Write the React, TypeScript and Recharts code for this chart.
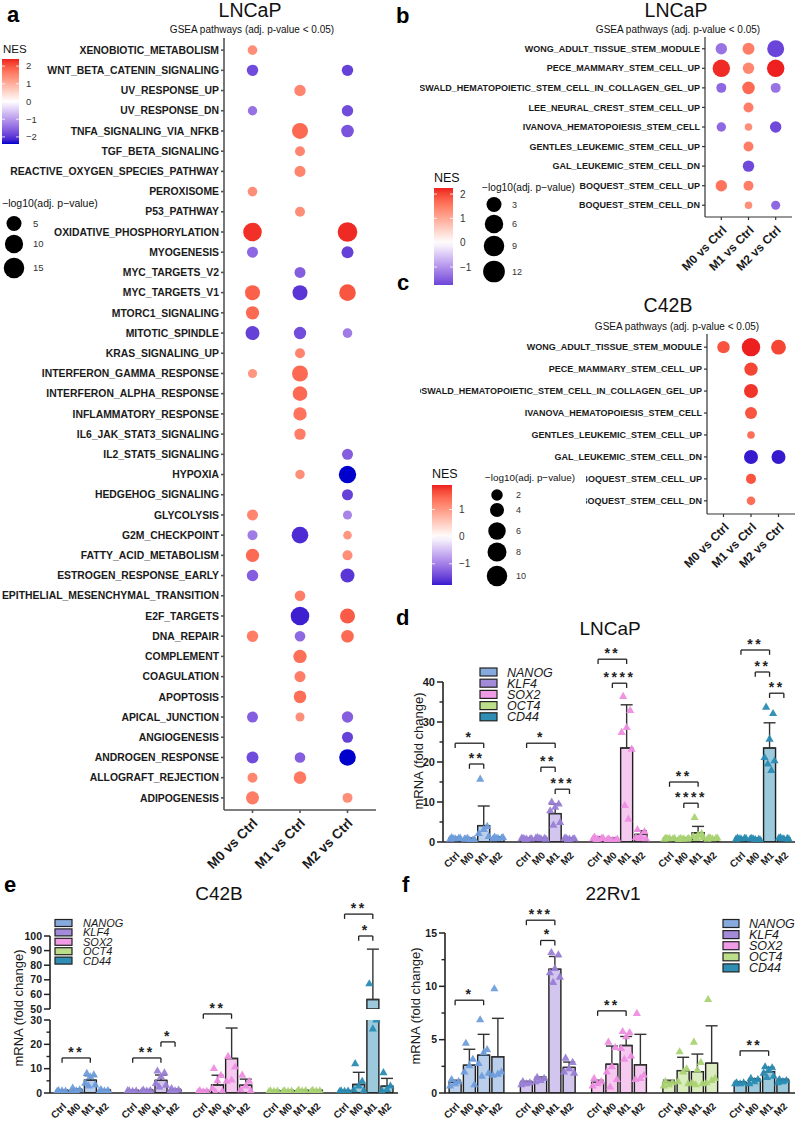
import React from 'react';
import {
  ScatterChart, Scatter, XAxis, YAxis, ComposedChart, Bar, Cell, ErrorBar, ReferenceLine, Rectangle,
} from 'recharts';

const FONT = '"Liberation Sans", Arial, Helvetica, sans-serif';

const comparisons = ['M0 vs Ctrl', 'M1 vs Ctrl', 'M2 vs Ctrl'];

// a: hallmark GSEA, LNCaP
const hallmarkPathways = [
  'XENOBIOTIC_METABOLISM', 'WNT_BETA_CATENIN_SIGNALING', 'UV_RESPONSE_UP', 'UV_RESPONSE_DN',
  'TNFA_SIGNALING_VIA_NFKB', 'TGF_BETA_SIGNALING', 'REACTIVE_OXYGEN_SPECIES_PATHWAY', 'PEROXISOME',
  'P53_PATHWAY', 'OXIDATIVE_PHOSPHORYLATION', 'MYOGENESIS', 'MYC_TARGETS_V2', 'MYC_TARGETS_V1',
  'MTORC1_SIGNALING', 'MITOTIC_SPINDLE', 'KRAS_SIGNALING_UP', 'INTERFERON_GAMMA_RESPONSE',
  'INTERFERON_ALPHA_RESPONSE', 'INFLAMMATORY_RESPONSE', 'IL6_JAK_STAT3_SIGNALING', 'IL2_STAT5_SIGNALING',
  'HYPOXIA', 'HEDGEHOG_SIGNALING', 'GLYCOLYSIS', 'G2M_CHECKPOINT', 'FATTY_ACID_METABOLISM',
  'ESTROGEN_RESPONSE_EARLY', 'EPITHELIAL_MESENCHYMAL_TRANSITION', 'E2F_TARGETS', 'DNA_REPAIR',
  'COMPLEMENT', 'COAGULATION', 'APOPTOSIS', 'APICAL_JUNCTION', 'ANGIOGENESIS', 'ANDROGEN_RESPONSE',
  'ALLOGRAFT_REJECTION', 'ADIPOGENESIS',
];
const hallmarkNesM0 = [1.4, -1.8, null, -1.4, null, null, null, 1.4, null, 2.3, -1.5, null, 1.9, 1.8, -1.9, null, 1.3, null, null, null, null, null, null, 1.5, -1.3, 1.8, -1.6, null, null, 1.6, null, null, null, -1.6, null, -1.8, 1.5, 1.6];
const hallmarkLogPM0 = [3.5, 5.2, null, 3.3, null, null, null, 3.5, null, 15, 4.8, null, 9.5, 7.4, 8.2, null, 3.1, null, null, null, null, null, null, 4.8, 3.8, 7.4, 5.2, null, null, 5.2, null, null, null, 4.8, null, 5.8, 3.8, 7.0];
const hallmarkNesM1 = [null, null, 1.5, null, 1.8, 1.5, 1.5, null, 1.4, null, null, -1.6, -2.0, null, -1.8, 1.5, 1.8, 1.8, 1.7, 1.6, null, 1.4, null, null, -2.1, null, null, 1.6, -2.2, -1.5, 1.75, 1.6, 1.75, 1.4, null, -1.6, 1.65, null];
const hallmarkLogPM1 = [null, null, 5.2, null, 10.9, 3.8, 4.8, null, 3.8, null, null, 4.8, 9.5, null, 6.3, 3.8, 10.9, 9.0, 7.4, 5.2, null, 3.3, null, null, 11.8, null, null, 4.4, 15, 4.4, 7.4, 4.8, 6.5, 3.0, null, 4.4, 6.5, null];
const hallmarkNesM2 = [null, -1.9, null, -1.8, -1.7, null, null, null, null, 2.35, -1.9, null, 2.0, null, -1.3, null, null, null, null, null, -1.6, -2.4, -1.9, -1.2, 1.3, 1.4, -2.0, null, 1.95, 1.8, null, null, null, -1.6, -1.9, -2.4, null, 1.4];
const hallmarkLogPM2 = [null, 5.2, null, 5.2, 6.5, null, null, null, null, 16.7, 5.8, null, 11.8, null, 3.5, null, null, null, null, null, 4.8, 13.0, 4.8, 3.0, 2.6, 3.8, 8.2, null, 9.5, 6.5, null, null, null, 5.2, 4.8, 11.8, null, 3.8];

// b: stem cell signatures, LNCaP
const stemPathwaysB = [
  'WONG_ADULT_TISSUE_STEM_MODULE', 'PECE_MAMMARY_STEM_CELL_UP', 'OSWALD_HEMATOPOIETIC_STEM_CELL_IN_COLLAGEN_GEL_UP',
  'LEE_NEURAL_CREST_STEM_CELL_UP', 'IVANOVA_HEMATOPOIESIS_STEM_CELL', 'GENTLES_LEUKEMIC_STEM_CELL_UP',
  'GAL_LEUKEMIC_STEM_CELL_DN', 'BOQUEST_STEM_CELL_UP', 'BOQUEST_STEM_CELL_DN',
];
const stemNesM0B = [-1.3, 2.2, -1.4, null, -1.4, null, null, 1.6, null];
const stemLogPM0B = [5.0, 12, 3.7, null, 3.3, null, null, 5.0, null];
const stemNesM1B = [1.5, 1.4, 1.7, 1.5, 1.3, 1.5, -1.7, 1.5, 1.3];
const stemLogPM1B = [5.5, 5.0, 6.1, 3.7, 2.0, 3.7, 5.0, 3.7, 2.0];
const stemNesM2B = [-1.74, 2.25, -1.3, null, -1.7, null, null, null, -1.4];
const stemLogPM2B = [11.4, 12, 3.7, null, 5.0, null, null, null, 3.0];

// c: stem cell signatures, C42B
const stemPathwaysC = [
  'WONG_ADULT_TISSUE_STEM_MODULE', 'PECE_MAMMARY_STEM_CELL_UP', 'OSWALD_HEMATOPOIETIC_STEM_CELL_IN_COLLAGEN_GEL_UP',
  'IVANOVA_HEMATOPOIESIS_STEM_CELL', 'GENTLES_LEUKEMIC_STEM_CELL_UP', 'GAL_LEUKEMIC_STEM_CELL_DN',
  'BOQUEST_STEM_CELL_UP', 'BOQUEST_STEM_CELL_DN',
];
const stemNesM0C = [1.6, null, null, null, null, null, null, null];
const stemLogPM0C = [4.4, null, null, null, null, null, null, null];
const stemNesM1C = [1.9, 1.7, 1.8, 1.6, 1.4, -1.78, 1.6, 1.4];
const stemLogPM1C = [10, 5.2, 5.7, 4.1, 1.5, 5.7, 2.8, 2.0];
const stemNesM2C = [1.7, null, null, null, null, -1.78, null, null];
const stemLogPM2C = [6.4, null, null, null, null, 5.7, null, null];

// legend breaks
const nesTicksA = [2, 1, 0, -1, -2];
const nesTicksB = [2, 1, 0, -1];
const nesTicksC = [1, 0, -1];
const sizeBreaksA = [5, 10, 15];
const sizeBreaksB = [3, 6, 9, 12];
const sizeBreaksC = [2, 4, 6, 8, 10];

// d-f: qPCR fold change
const genes = ['NANOG', 'KLF4', 'SOX2', 'OCT4', 'CD44'];
const conditions = ['Ctrl', 'M0', 'M1', 'M2'];

const lncapMean = [[1.0, 0.7, 4.1, 1.1], [0.9, 1.0, 7.1, 0.9], [1.0, 0.7, 23.5, 1.9], [1.0, 0.9, 2.3, 1.0], [1.0, 0.8, 23.5, 1.0]];
const lncapSd = [[0.2, 0.3, 4.9, 0.2], [0.1, 0.1, 2.4, 0.1], [0.3, 0.3, 10.8, 0.9], [0.1, 0.1, 1.6, 0.1], [0.1, 0.2, 6.3, 0.1]];
const lncapReps = [
  [[1.2, 1.0, 0.9, 0.8, 1.1, 0.9], [0.9, 0.6, 0.5, 0.8, 0.7, 1.0], [15.8, 4.0, 3.2, 2.2, 1.5], [1.3, 1.1, 1.0, 0.9, 1.2, 1.0]],
  [[1.0, 0.9, 0.8, 1.0, 0.9, 0.8], [1.2, 1.0, 0.9, 1.1, 0.8, 1.0], [10.1, 9.6, 8.8, 7.9, 5.0, 4.3], [1.1, 0.9, 0.8, 1.0, 0.9, 0.7]],
  [[1.3, 1.0, 0.8, 0.9, 1.1, 0.7], [0.9, 0.6, 0.5, 0.7, 0.8, 0.4], [36.5, 33.0, 28.7, 27.5, 23.3, 9.2, 5.8], [3.2, 2.7, 1.5, 1.2, 0.9, 1.0]],
  [[1.1, 0.9, 1.0, 0.8, 1.0, 0.9], [1.0, 0.8, 0.9, 0.7, 1.0, 0.8], [6.2, 2.2, 1.8, 1.5, 1.2, 1.0], [1.2, 1.0, 0.9, 0.8, 1.1, 1.0]],
  [[1.1, 1.0, 0.9, 0.8, 1.0, 0.9], [1.0, 0.8, 0.7, 0.9, 0.6, 0.8], [33.8, 32.2, 25.8, 21.2, 20.4, 19.6, 18.0], [1.2, 1.0, 0.9, 1.1, 0.8, 0.9]],
];
// [gene, from, to, height, stars]
const lncapSig = [
  [0, 0, 2, 24.7, '*'], [0, 1, 2, 19.5, '**'],
  [1, 0, 2, 24.7, '*'], [1, 1, 2, 18.7, '**'], [1, 2, 3, 13.2, '***'],
  [2, 0, 2, 45.7, '**'], [2, 1, 2, 39.7, '****'],
  [3, 0, 2, 15.0, '**'], [3, 1, 2, 9.7, '****'],
  [4, 0, 2, 48.0, '**'], [4, 1, 2, 42.5, '**'], [4, 2, 3, 37.2, '**'],
];

const c42bMean = [[1.0, 1.2, 5.3, 1.1], [1.0, 1.1, 5.2, 1.2], [0.8, 3.3, 14.2, 3.2], [0.9, 0.9, 1.0, 1.0], [0.9, 3.5, 56.5, 2.8]];
const c42bSd = [[0.2, 0.5, 1.8, 0.3], [0.1, 0.3, 2.2, 0.4], [0.3, 4.0, 12.5, 2.5], [0.2, 0.2, 0.3, 0.2], [0.2, 5.0, 34.5, 3.2]];
const c42bReps = [
  [[1.2, 0.9, 1.0, 0.8], [2.2, 1.5, 1.0, 0.7], [8.2, 7.6, 6.8, 4.2, 3.5, 3.0], [1.6, 1.2, 0.9, 0.8]],
  [[1.0, 0.9, 0.8, 1.1], [1.4, 1.2, 0.9, 0.8], [9.2, 8.4, 6.8, 4.1, 3.4, 2.6], [2.0, 1.4, 1.0, 0.8]],
  [[1.2, 0.8, 0.6, 0.5], [10.2, 7.4, 5.2, 2.0, 0.8, 0.4], [15.2, 10.8, 5.5, 5.0], [7.5, 5.0, 3.0, 1.5, 1.0]],
  [[1.0, 0.9, 0.8, 0.7], [1.0, 0.9, 0.8, 0.8], [1.4, 1.1, 0.9, 0.7], [1.3, 1.0, 0.9, 0.8]],
  [[1.0, 0.9, 0.8, 0.7], [12.2, 5.0, 3.0, 1.5, 1.0], [67.5, 30.2, 26.5], [8.5, 3.0, 1.6, 1.0]],
];
const c42bSigLow = [[0, 0, 2, 14.4, '**'], [1, 0, 2, 14.4, '**'], [1, 2, 3, 21.0, '*'], [2, 0, 2, 32.5, '**']];
const c42bSigHigh = [[4, 0, 2, 115, '**'], [4, 1, 2, 100, '*']];

const rv1Mean = [[1.0, 2.6, 3.55, 3.4], [1.0, 1.3, 11.6, 2.4], [1.0, 2.7, 4.45, 2.65], [1.0, 2.1, 2.0, 2.8], [1.0, 1.2, 2.0, 1.2]];
const rv1Sd = [[0.2, 1.5, 1.95, 3.6], [0.1, 0.2, 1.2, 0.5], [0.2, 1.7, 0.85, 2.85], [0.2, 1.25, 1.65, 3.5], [0.05, 0.15, 0.4, 0.1]];
const rv1Reps = [
  [[1.3, 1.1, 0.9, 0.7], [4.7, 3.2, 2.6, 2.0, 0.8], [6.9, 4.1, 3.8, 2.8, 1.9, 1.6], [9.8, 2.0, 1.8, 1.7]],
  [[1.1, 1.0, 0.9, 0.8], [1.5, 1.4, 1.2, 1.1], [13.2, 13.0, 11.7, 11.3, 10.9, 10.4], [3.3, 2.9, 2.3, 2.0, 1.9]],
  [[1.4, 1.1, 0.9, 0.7], [4.8, 4.3, 2.5, 2.0, 1.3, 0.6], [5.8, 5.7, 5.3, 4.2, 3.5, 3.2], [7.5, 1.7, 1.4, 1.3]],
  [[1.1, 1.0, 0.8, 0.7], [3.9, 2.3, 2.0, 1.1, 0.9], [4.8, 2.9, 2.2, 1.0, 0.9, 0.8], [8.8, 1.4, 1.2, 1.0]],
  [[1.0, 1.0, 0.9, 0.9], [1.4, 1.3, 1.1, 0.9], [2.5, 2.4, 2.2, 1.9, 1.6, 1.5], [1.3, 1.2, 1.1, 1.0]],
];
const rv1Sig = [[0, 0, 2, 8.7, '*'], [1, 0, 2, 16.2, '***'], [1, 1, 2, 14.3, '*'], [2, 0, 2, 7.7, '**'], [4, 0, 2, 3.95, '**']];

const genePoint = ['#6f9ddc', '#9a80d6', '#ee8ee2', '#aad373', '#2a8cb2'];
const geneBar = ['#bacfec', '#d3c6ee', '#f6caf0', '#dcecc1', '#9ccadc'];
const geneKey = ['#86aade', '#a48bd9', '#f09be6', '#bcdd8a', '#2f8eb3'];

// ---- colour helpers (ggplot gradient2 interpolates in Lab)
function hexToLab(hex: string) {
  const n = parseInt(hex.slice(1), 16);
  const lin = (c: number) => (c <= 0.04045 ? c / 12.92 : Math.pow((c + 0.055) / 1.055, 2.4));
  const r = lin(((n >> 16) & 255) / 255);
  const g = lin(((n >> 8) & 255) / 255);
  const b = lin((n & 255) / 255);
  const X = (r * 0.4124 + g * 0.3576 + b * 0.1805) / 0.95047;
  const Y = r * 0.2126 + g * 0.7152 + b * 0.0722;
  const Z = (r * 0.0193 + g * 0.1192 + b * 0.9505) / 1.08883;
  const f = (t: number) => (t > 0.008856 ? Math.cbrt(t) : 7.787 * t + 16 / 116);
  return [116 * f(Y) - 16, 500 * (f(X) - f(Y)), 200 * (f(Y) - f(Z))];
}

function labToHex(lab: number[]) {
  const fy = (lab[0] + 16) / 116;
  const fx = fy + lab[1] / 500;
  const fz = fy - lab[2] / 200;
  const inv = (t: number) => (t ** 3 > 0.008856 ? t ** 3 : (t - 16 / 116) / 7.787);
  const X = inv(fx) * 0.95047, Y = inv(fy), Z = inv(fz) * 1.08883;
  const rgb = [
    X * 3.2406 - Y * 1.5372 - Z * 0.4986,
    -X * 0.9689 + Y * 1.8758 + Z * 0.0415,
    X * 0.0557 - Y * 0.204 + Z * 1.057,
  ];
  return '#' + rgb.map((c) => {
    const s = c <= 0.0031308 ? 12.92 * c : 1.055 * Math.pow(c, 1 / 2.4) - 0.055;
    return Math.round(Math.min(1, Math.max(0, s)) * 255).toString(16).padStart(2, '0');
  }).join('');
}

const LAB_WHITE = hexToLab('#ffffff');
const LAB_HIGH = hexToLab('#ee1f1f');
const LAB_LOW = hexToLab('#0000cc');

function nesColor(v: number, maxAbs: number) {
  const t = Math.min(1, Math.abs(v) / maxAbs);
  const end = v >= 0 ? LAB_HIGH : LAB_LOW;
  return labToHex(LAB_WHITE.map((c, i) => c + (end[i] - c) * t));
}

// ---- dot plots (a, b, c)
function DotPlot({ left, top, width, height, margin, yWidth, xHeight, pathways, nes, logp, radius, maxAbs,
  labelSize, xLabelSize, axisColor, axisWidth }: any) {
  const n = pathways.length;
  const series = nes.map((arr: any[], k: number) => pathways
    .map((name: string, i: number) => ({ x: k + 1, y: i + 1, nes: arr[i], p: logp[k][i] }))
    .filter((d: any) => d.nes != null));
  const axisStyle = { stroke: axisColor, strokeWidth: axisWidth };
  return (
    <div style={{ position: 'absolute', left, top }}>
      <ScatterChart width={width} height={height} margin={margin}>
        <XAxis
          type="number" dataKey="x" domain={[0.4, 3.6]} ticks={[1, 2, 3]} interval={0} height={xHeight}
          axisLine={axisStyle} tickLine={axisStyle} tickSize={3} tickMargin={2}
          tick={(p: any) => {
            const ax = p.x + 6;
            const ay = p.y + 9;
            return (
              <text x={ax} y={ay} transform={`rotate(-45 ${ax} ${ay})`} textAnchor="end" fontSize={xLabelSize}
                fontWeight={700} fill="#1a1a1a" fontFamily={FONT}>{comparisons[p.payload.value - 1]}</text>
            );
          }}
        />
        <YAxis
          type="number" dataKey="y" domain={[0.4, n + 0.6]} reversed interval={0} width={yWidth}
          ticks={pathways.map((_: string, i: number) => i + 1)}
          tickFormatter={(v: number) => pathways[v - 1] ?? ''}
          axisLine={axisStyle} tickLine={axisStyle} tickSize={3} tickMargin={2}
          tick={{ fontSize: labelSize, fontWeight: 700, fill: '#1a1a1a', fontFamily: FONT }}
        />
        {series.map((data: any[], k: number) => (
          <Scatter
            key={k} data={data} isAnimationActive={false}
            shape={(p: any) => (
              <circle cx={p.cx} cy={p.cy} r={radius(p.payload.p)} fill={nesColor(p.payload.nes, maxAbs)} />
            )}
          />
        ))}
      </ScatterChart>
    </div>
  );
}

// ---- bar + points (d, e, f)
const repKeys = ['r0', 'r1', 'r2', 'r3', 'r4', 'r5', 'r6'];
const jitter = [-3.5, 3.5, 0, -5, 5, -1.8, 1.8];
const AX = '#222';

function buildRows(mean: number[][], sd: number[][], reps: number[][][]) {
  const rows: any[] = [];
  genes.forEach((g, gi) => {
    conditions.forEach((c, ci) => {
      const row: any = { key: `${g}|${c}`, gene: gi, mean: mean[gi][ci], err: [0, sd[gi][ci]] };
      reps[gi][ci].forEach((v, k) => { row[repKeys[k]] = v; });
      rows.push(row);
    });
    if (gi < genes.length - 1) rows.push({ key: `gap${gi}|`, gene: -1, mean: null, err: [0, 0] });
  });
  return rows;
}

function CatTick({ x, y, payload, size }: any) {
  const label = String(payload.value).split('|')[1];
  if (!label) return <g />;
  const ax = x + 5;
  const ay = y + 14;
  return (
    <text x={ax} y={ay} transform={`rotate(-45 ${ax} ${ay})`} textAnchor="end" fontSize={size}
      fontWeight={700} fill="#1a1a1a" fontFamily={FONT}>{label}</text>
  );
}

function ValTick({ x, y, payload, major, size }: any) {
  const isMajor = major.includes(payload.value);
  if (!isMajor) return <line x1={x - 3.5} x2={x} y1={y} y2={y} stroke={AX} strokeWidth={1.4} />;
  return (
    <g>
      <line x1={x - 6} x2={x} y1={y} y2={y} stroke={AX} strokeWidth={1.5} />
      <text x={x - 8} y={y} dy="0.35em" textAnchor="end" fontSize={size} fontWeight={700} fill="#1a1a1a"
        fontFamily={FONT}>{payload.value}</text>
    </g>
  );
}

function Tri({ cx, cy, payload, k, j }: any) {
  if (!payload || payload[k] == null || cx == null || cy == null) return <g />;
  const x = cx + jitter[j];
  return (
    <path d={`M${x},${cy - 4.2}L${x + 4.1},${cy + 2.9}L${x - 4.1},${cy + 2.9}Z`}
      fill={genePoint[payload.gene]} fillOpacity={0.95} />
  );
}

function BarPanel({ left, top, width, height, margin, yWidth, xHeight, rows, domain, major, minor, sig, drop,
  padding, hideX, tickFont, catFont }: any) {
  const ticks = [...major, ...minor].sort((a, b) => a - b);
  const axisStyle = { stroke: AX, strokeWidth: 1.6 };
  return (
    <div style={{ position: 'absolute', left, top }}>
      <ComposedChart width={width} height={height} data={rows} margin={margin} barCategoryGap="8%">
        <XAxis
          dataKey="key" type="category" interval={0} padding={padding} height={xHeight} hide={hideX}
          tickLine={false} tickSize={0} tickMargin={0} axisLine={axisStyle}
          tick={(p: any) => <CatTick {...p} size={catFont} />}
        />
        <YAxis
          type="number" domain={domain} allowDataOverflow ticks={ticks} interval={0} width={yWidth}
          tickLine={false} tickSize={0} tickMargin={0} axisLine={axisStyle}
          tick={(p: any) => <ValTick {...p} major={major} size={tickFont} />}
        />
        <Bar
          dataKey="mean" isAnimationActive={false} stroke="#1f1f1f" strokeWidth={1.4}
          shape={(p: any) => (p.payload == null || p.payload.mean == null || p.payload.mean <= domain[0]
            ? <g />
            : <Rectangle {...p} />)}
        >
          {rows.map((r: any, i: number) => <Cell key={i} fill={r.gene >= 0 ? geneBar[r.gene] : 'none'} />)}
          <ErrorBar dataKey="err" direction="y" width={6} stroke="#333" strokeWidth={1.4} />
        </Bar>
        {repKeys.map((k, j) => (
          <Scatter key={k} dataKey={k} isAnimationActive={false} shape={(p: any) => <Tri {...p} k={k} j={j} />} />
        ))}
        {sig.map(([gi, a, b, y, stars]: any, i: number) => {
          const xa = `${genes[gi]}|${conditions[a]}`;
          const xb = `${genes[gi]}|${conditions[b]}`;
          const line = { stroke: '#222', strokeWidth: 1.3, ifOverflow: 'visible' as const };
          return [
            <ReferenceLine key={`h${i}`} {...line} segment={[{ x: xa, y }, { x: xb, y }]}
              label={{ value: stars, position: 'top', offset: 1, fontSize: 14, fontWeight: 700, fill: '#222', letterSpacing: 2.5 }} />,
            <ReferenceLine key={`l${i}`} {...line} segment={[{ x: xa, y }, { x: xa, y: y - drop }]} />,
            <ReferenceLine key={`r${i}`} {...line} segment={[{ x: xb, y }, { x: xb, y: y - drop }]} />,
          ];
        })}
      </ComposedChart>
    </div>
  );
}

// ---- legend pieces drawn in the overlay
function ColorBar({ id, x, y, w, h, top, bottom, maxAbs, ticks, labelX, size }: any) {
  const yOf = (v: number) => y + ((top - v) / (top - bottom)) * h;
  const stops = [];
  for (let i = 0; i <= 20; i++) {
    const f = i / 20;
    stops.push(<stop key={i} offset={f} stopColor={nesColor(top - f * (top - bottom), maxAbs)} />);
  }
  return (
    <g>
      <defs><linearGradient id={id} x1="0" y1="0" x2="0" y2="1">{stops}</linearGradient></defs>
      <rect x={x} y={y} width={w} height={h} fill={`url(#${id})`} />
      {ticks.map((t: number) => (
        <g key={t}>
          <line x1={x} x2={x + 3} y1={yOf(t)} y2={yOf(t)} stroke="#fff" strokeWidth={0.8} />
          <line x1={x + w - 3} x2={x + w} y1={yOf(t)} y2={yOf(t)} stroke="#fff" strokeWidth={0.8} />
          <text x={labelX} y={yOf(t)} dy="0.35em" fontSize={size} fill="#333">{t < 0 ? `\u2212${-t}` : t}</text>
        </g>
      ))}
    </g>
  );
}

function SizeKey({ cx, breaks, ys, ds, labelX, size }: any) {
  return (
    <g>
      {breaks.map((b: number, i: number) => (
        <g key={b}>
          <circle cx={cx} cy={ys[i]} r={ds[i] / 2} fill="#000" />
          <text x={labelX} y={ys[i]} dy="0.35em" fontSize={size} fill="#333">{b}</text>
        </g>
      ))}
    </g>
  );
}

function GeneKey({ x, y, gap, boxW, boxH, labelX, size }: any) {
  return (
    <g>
      {genes.map((g, i) => (
        <g key={g}>
          <rect x={x} y={y + i * gap - boxH / 2} width={boxW} height={boxH} fill={geneKey[i]} stroke="#222" strokeWidth={1.2} />
          <text x={labelX} y={y + i * gap} dy="0.36em" fontSize={size} fontStyle="italic" fill="#1a1a1a">{g}</text>
        </g>
      ))}
    </g>
  );
}

const PLOG = '\u2212log10(adj. p\u2212value)';
const GSEA = 'GSEA pathways (adj. p-value < 0.05)';

function Overlay() {
  const yTitle = (x: number, y: number) => (
    <text x={x} y={y} transform={`rotate(-90 ${x} ${y})`} textAnchor="middle" dy="0.35em" fontSize={13} fill="#1a1a1a">
      mRNA (fold change)
    </text>
  );
  return (
    <svg width={800} height={1121} fontFamily={FONT}
      style={{ position: 'absolute', left: 0, top: 0, pointerEvents: 'none' }}>
      {/* panel letters */}
      <g fontSize={22} fontWeight={700} fill="#000">
        <text x={7} y={22}>a</text>
        <text x={396} y={23}>b</text>
        <text x={397} y={290}>c</text>
        <text x={396} y={625}>d</text>
        <text x={4} y={892}>e</text>
        <text x={402} y={892}>f</text>
      </g>
      {/* titles */}
      <g textAnchor="middle" fill="#111">
        <text x={250} y={17} fontSize={19.5}>LNCaP</text>
        <text x={252} y={33} fontSize={10}>{GSEA}</text>
        <text x={676} y={17} fontSize={19.5}>LNCaP</text>
        <text x={678} y={33} fontSize={10}>{GSEA}</text>
        <text x={668} y={312} fontSize={19.5}>C42B</text>
        <text x={677} y={330} fontSize={10}>{GSEA}</text>
        <text x={610} y={635} fontSize={19}>LNCaP</text>
        <text x={219} y={900} fontSize={19}>C42B</text>
        <text x={613} y={900} fontSize={19}>22Rv1</text>
      </g>
      {yTitle(418, 751)}
      {yTitle(18, 1008)}
      {yTitle(415, 1006)}

      {/* a legends */}
      <text x={3} y={53} fontSize={11.5} fill="#111">NES</text>
      <ColorBar id="nesA" x={2} y={59} w={17} h={85} top={2.4} bottom={-2.4} maxAbs={2.4} ticks={nesTicksA} labelX={26} size={9.5} />
      <text x={2} y={207} fontSize={10.5} fill="#111">{PLOG}</text>
      <SizeKey cx={14} breaks={sizeBreaksA} ys={[223.5, 244, 268]} ds={[15, 18.3, 20.5]} labelX={33} size={9.5} />

      {/* b legends */}
      <text x={434} y={182} fontSize={12.5} fill="#111">NES</text>
      <ColorBar id="nesB" x={434} y={188} w={19} h={97} top={2.25} bottom={-1.74} maxAbs={2.25} ticks={nesTicksB} labelX={460} size={10} />
      <text x={482} y={191} fontSize={10.2} fill="#111">{PLOG}</text>
      <SizeKey cx={494} breaks={sizeBreaksB} ys={[204.5, 224, 246, 271.5]} ds={[15, 18.5, 20.5, 21.7]} labelX={512} size={9} />

      {/* c legends (white box hides the label ends like the source) */}
      <rect x={478} y={466} width={108} height={130} fill="#fff" />
      <text x={432} y={477.5} fontSize={12.5} fill="#111">NES</text>
      <ColorBar id="nesC" x={432} y={485} w={20} h={100} top={1.9} bottom={-1.78} maxAbs={1.9} ticks={nesTicksC} labelX={459} size={10} />
      <text x={485} y={481} fontSize={9.9} fill="#111">{PLOG}</text>
      <SizeKey cx={497} breaks={sizeBreaksC} ys={[495, 510, 531, 552, 576]} ds={[11.5, 14, 17.5, 19, 20.5]} labelX={516} size={9} />

      {/* gene keys */}
      <GeneKey x={480} y={672} gap={11.2} boxW={17} boxH={8} labelX={507} size={12.5} />
      <GeneKey x={55} y={923} gap={9.4} boxW={17} boxH={7} labelX={83} size={11} />
      <GeneKey x={723} y={923.5} gap={11.1} boxW={16} boxH={8} labelX={749} size={12.5} />
    </svg>
  );
}

const lncapRows = buildRows(lncapMean, lncapSd, lncapReps);
const c42bRows = buildRows(c42bMean, c42bSd, c42bReps);
const rv1Rows = buildRows(rv1Mean, rv1Sd, rv1Reps);

export default function App() {
  return (
    <div style={{ position: 'absolute', left: 0, top: 0, width: 800, height: 1121, background: '#fff', overflow: 'hidden', fontFamily: FONT }}>
      <DotPlot
        left={0} top={0} width={400} height={885} margin={{ top: 38, right: 24, bottom: 0, left: 0 }}
        yWidth={224} xHeight={75} pathways={hallmarkPathways}
        nes={[hallmarkNesM0, hallmarkNesM1, hallmarkNesM2]} logp={[hallmarkLogPM0, hallmarkLogPM1, hallmarkLogPM2]}
        radius={(p: number) => Math.sqrt(4 + 5.5 * p)} maxAbs={2.4}
        labelSize={10.4} xLabelSize={13.5} axisColor="#555" axisWidth={1.6}
      />
      <DotPlot
        left={420} top={0} width={380} height={280} margin={{ top: 37, right: 8, bottom: 0, left: 0 }}
        yWidth={285} xHeight={63} pathways={stemPathwaysB}
        nes={[stemNesM0B, stemNesM1B, stemNesM2B]} logp={[stemLogPM0B, stemLogPM1B, stemLogPM2B]}
        radius={(p: number) => Math.sqrt(2.1 + 6.13 * p)} maxAbs={2.25}
        labelSize={9} xLabelSize={12} axisColor="#333" axisWidth={1.2}
      />
      <DotPlot
        left={420} top={290} width={380} height={290} margin={{ top: 44, right: 5, bottom: 0, left: 0 }}
        yWidth={287} xHeight={66} pathways={stemPathwaysC}
        nes={[stemNesM0C, stemNesM1C, stemNesM2C]} logp={[stemLogPM0C, stemLogPM1C, stemLogPM2C]}
        radius={(p: number) => Math.sqrt(2 + 8.26 * p)} maxAbs={1.9}
        labelSize={9} xLabelSize={12} axisColor="#333" axisWidth={1.2}
      />
      <BarPanel
        left={400} top={600} width={400} height={280} margin={{ top: 82, right: 5, bottom: 0, left: 0 }}
        yWidth={43} xHeight={38} rows={lncapRows} domain={[0, 40]} major={[0, 10, 20, 30, 40]} minor={[5, 15, 25, 35]}
        sig={lncapSig} drop={1.2} padding={{ left: 5, right: 4 }} tickFont={11} catFont={10}
      />
      <BarPanel
        left={0} top={880} width={400} height={136} margin={{ top: 56, right: 2, bottom: 7, left: 0 }}
        yWidth={50} xHeight={0} hideX rows={c42bRows} domain={[50, 100]} major={[50, 60, 70, 80, 90, 100]} minor={[]}
        sig={c42bSigHigh} drop={3.3} padding={{ left: 5, right: 4 }} tickFont={10.5} catFont={10}
      />
      <BarPanel
        left={0} top={990} width={400} height={131} margin={{ top: 30, right: 2, bottom: 0, left: 0 }}
        yWidth={50} xHeight={28} rows={c42bRows} domain={[0, 30]} major={[0, 10, 20, 30]} minor={[5, 15, 25]}
        sig={c42bSigLow} drop={2} padding={{ left: 5, right: 4 }} tickFont={10.5} catFont={10}
      />
      <BarPanel
        left={400} top={880} width={400} height={241} margin={{ top: 53, right: 5, bottom: 0, left: 0 }}
        yWidth={45} xHeight={28} rows={rv1Rows} domain={[0, 15]} major={[0, 5, 10, 15]} minor={[2.5, 7.5, 12.5]}
        sig={rv1Sig} drop={0.47} padding={{ left: 3, right: 5 }} tickFont={10.5} catFont={10}
      />
      <Overlay />
    </div>
  );
}
